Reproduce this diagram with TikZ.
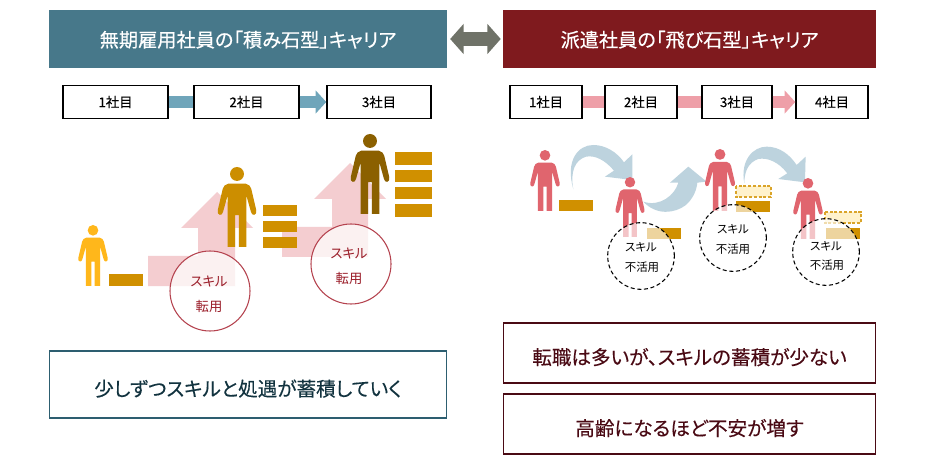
\documentclass[tikz,border=0pt]{standalone}
\usepackage{fontspec}
\setmainfont{Noto Sans CJK JP}[RawFeature=+palt]
\newfontfamily\emb{Noto Sans CJK JP}[RawFeature=+palt,FakeBold=0.45]
\newfontfamily\embl{Noto Sans CJK JP}[RawFeature=+palt,FakeBold=0.2]
\usetikzlibrary{arrows.meta}
\definecolor{hteal}{HTML}{47788A}
\definecolor{hred}{HTML}{7F1A1E}
\definecolor{dgray}{HTML}{6F7268}
\definecolor{tealarrow}{HTML}{6FA5BA}
\definecolor{pinkarrow}{HTML}{EE9FA8}
\definecolor{softpink}{HTML}{F4CDD0}
\definecolor{barc}{HTML}{D09000}
\definecolor{pyellow}{HTML}{FFB71B}
\definecolor{pgold}{HTML}{CC8E00}
\definecolor{pbrown}{HTML}{8B6000}
\definecolor{pred}{HTML}{E0656E}
\definecolor{curve}{HTML}{BDD3DE}
\definecolor{cream}{HTML}{FFF2CC}
\definecolor{circred}{HTML}{B5434F}
\definecolor{txtred}{HTML}{9A1C28}
\definecolor{tealline}{HTML}{2D5E70}
\definecolor{maroon}{HTML}{4A0A14}
\definecolor{tealtxt}{HTML}{12333F}
\newcommand{\fs}[1]{\fontsize{#1}{#1}\selectfont}
\newcommand{\lowered}[1]{\raisebox{-8.7pt}[0pt][0pt]{#1}}
\newcommand{\headtxt}[1]{\raisebox{-6pt}[0pt][0pt]{#1}}
\newcommand{\pperson}[4]{%
\begin{scope}[shift={(#1,#2)},scale=#3/241]
\fill[#4] (0,21) circle (21);
\fill[#4] (-26,50) -- (26,50) .. controls (36,52) and (41,58) .. (43,66) -- (58,130)
 .. controls (61,146) and (45,150) .. (42,135) -- (28,85) -- (28,241) -- (6,241) -- (6,145)
 -- (-6,145) -- (-6,241) -- (-28,241) -- (-28,85) -- (-42,135)
 .. controls (-45,150) and (-61,146) .. (-58,130) -- (-43,66)
 .. controls (-41,58) and (-36,52) .. (-26,50) -- cycle;
\end{scope}}
\newcommand{\barx}[4]{\fill[barc] (#1,#2) rectangle (#3,#4);}
\newcommand{\dbar}[4]{\draw[barc!80!cream,fill=cream,line width=0.8pt,dash pattern=on 2.2pt off 1.4pt] (#1,#2) rectangle (#3,#4);}
\tikzset{
 x=0.75pt,y=-0.75pt,
 headbox/.style={minimum height=43pt,inner sep=0pt,text=white,font=\emb\fs{14.4},fill=#1},
 yearbox/.style={draw=black,line width=1.1pt,fill=white,minimum height=24.5pt,inner sep=0pt,font=\embl\fs{10}},
 notebox/.style={draw=#1,line width=1.1pt,fill=white,inner sep=0pt,font=\embl\fs{14.7}},
 tealjoin/.style={draw=tealarrow,line width=9pt},
 pinkjoin/.style={draw=pinkarrow,line width=9pt},
 redcirc/.style={draw=circred,line width=0.8pt,fill=white,fill opacity=.72,circle,minimum size=60pt,inner sep=0pt},
 dashcirc/.style={draw=black,line width=0.8pt,dashed,dash pattern=on 3pt off 2pt,fill=white,fill opacity=.62,circle,minimum size=50pt,inner sep=0pt},
 redlabel/.style={text=txtred,font=\fs{10},inner sep=0pt},
 blacklabel/.style={text=black,font=\fs{8.6},inner sep=0pt},
}
\begin{document}
\begin{tikzpicture}
\useasboundingbox (0,0) rectangle (931,470);
\fill[white] (0,0) rectangle (931,470);
% headers
\node[headbox=hteal,minimum width=298.5pt,anchor=center] (lh) at (248,39) {\headtxt{無期雇用社員の「積み石型」キャリア}};
\node[headbox=hred,minimum width=279.75pt,anchor=center] (rh) at (689.5,39) {\headtxt{派遣社員の「飛び石型」キャリア}};
\draw[dgray,line width=10.5pt,{Triangle[length=10pt,width=22pt]}-{Triangle[length=10pt,width=22pt]},shorten <=2.2pt,shorten >=1.5pt] (lh.east) -- (rh.west);
% year boxes left
\node[yearbox,minimum width=78.75pt] (a1) at (115.5,102) {1社目};
\node[yearbox,minimum width=78.75pt] (a2) at (246.5,102) {2社目};
\node[yearbox,minimum width=78pt] (a3) at (379,102) {3社目};
\draw[tealjoin] (a1.east) -- (a2.west);
\draw[tealjoin,-{Triangle[length=8pt,width=17pt]}] (a2.east) -- (a3.west);
% year boxes right
\node[yearbox,minimum width=54pt] (b1) at (546,102) {1社目};
\node[yearbox,minimum width=54pt] (b2) at (641,102) {2社目};
\node[yearbox,minimum width=52.5pt] (b3) at (737,102) {3社目};
\node[yearbox,minimum width=54pt] (b4) at (832,102) {4社目};
\draw[pinkjoin] (b1.east) -- (b2.west);
\draw[pinkjoin] (b2.east) -- (b3.west);
\draw[pinkjoin,-{Triangle[length=8pt,width=17pt]}] (b3.east) -- (b4.west);
% left figures
\fill[softpink] (148,256) -- (198,256) -- (198,228) -- (181,228) -- (217,192) -- (253,228) -- (235,228) -- (235,286) -- (148,286) -- cycle;
\fill[softpink] (282,227) -- (332,227) -- (332,199) -- (314,199) -- (350,163) -- (386,199) -- (368,199) -- (368,257) -- (282,257) -- cycle;
\pperson{93}{225}{61}{pyellow}
\barx{109}{274}{143}{286}
\pperson{237}{167}{80}{pgold}
\barx{263}{205}{297}{216}
\barx{263}{221}{297}{232}
\barx{263}{237}{297}{248}
\pperson{370}{134}{80}{pbrown}
\barx{395}{152}{432}{165}
\barx{395}{170}{432}{182}
\barx{395}{187}{432}{199}
\barx{395}{204}{432}{217}
\node[redcirc] (c1) at (210,291) {};
\node[redcirc] (c2) at (351,264) {};
\node[redlabel] (c1a) at (209,282) {スキル};
\node[redlabel] (c1b) at (209,306) {転用};
\node[redlabel] (c2a) at (349,254) {スキル};
\node[redlabel] (c2b) at (349,278) {転用};
% right curved arrows
\begin{scope}[shift={(510,130)},scale=0.3333]
\fill[curve] (190,178) .. controls (165,90) and (205,45) .. (250,45) .. controls (285,45) and (320,65) .. (342,97)
 -- (367,73) -- (367,150) -- (285,140) -- (312,122) .. controls (285,90) and (255,75) .. (228,80) .. controls (195,90) and (180,125) .. (190,178) -- cycle;
\fill[curve] (400,215) .. controls (440,258) and (495,250) .. (528,225) .. controls (550,205) and (560,180) .. (562,158)
 -- (590,155) -- (535,110) -- (480,158) -- (505,158) .. controls (495,195) and (450,232) .. (400,215) -- cycle;
\fill[curve] (703,160) .. controls (690,90) and (730,50) .. (770,50) .. controls (810,50) and (840,75) .. (860,105)
 -- (887,80) -- (885,157) -- (805,147) -- (832,130) .. controls (805,95) and (772,82) .. (745,87) .. controls (715,97) and (703,125) .. (703,160) -- cycle;
\end{scope}
% right figures
\pperson{545}{150}{61}{pred}
\barx{559}{200}{593}{211}
\pperson{630}{177}{60}{pred}
\barx{647}{228}{681}{239}
\pperson{720}{149}{62}{pred}
\barx{736}{201}{770}{212}
\dbar{736}{186}{771}{197}
\pperson{808}{178}{61}{pred}
\barx{826}{228}{860}{239}
\dbar{825}{212}{861}{223}
\node[dashcirc] (d1) at (641,256) {};
\node[dashcirc] (d2) at (733,238) {};
\node[dashcirc] (d3) at (826,252) {};
\node[blacklabel] (d1a) at (641,247) {スキル};
\node[blacklabel] (d1b) at (642,267) {不活用};
\node[blacklabel] (d2a) at (733,229) {スキル};
\node[blacklabel] (d2b) at (733,249) {不活用};
\node[blacklabel] (d3a) at (826,246) {スキル};
\node[blacklabel] (d3b) at (827,265) {不活用};
% notes
\node[notebox=tealline,minimum width=298pt,minimum height=50pt,text=tealtxt] (n1) at (248,384.5) {\lowered{少しずつスキルと処遇が蓄積していく}};
\node[notebox=maroon,minimum width=279.25pt,minimum height=45pt,text=maroon] (n2) at (689.5,353) {\lowered{転職は多いが、スキルの蓄積が少ない}};
\node[notebox=maroon,minimum width=279.25pt,minimum height=45pt,text=maroon] (n3) at (689.5,424) {\lowered{高齢になるほど不安が増す}};
\end{tikzpicture}
\end{document}
